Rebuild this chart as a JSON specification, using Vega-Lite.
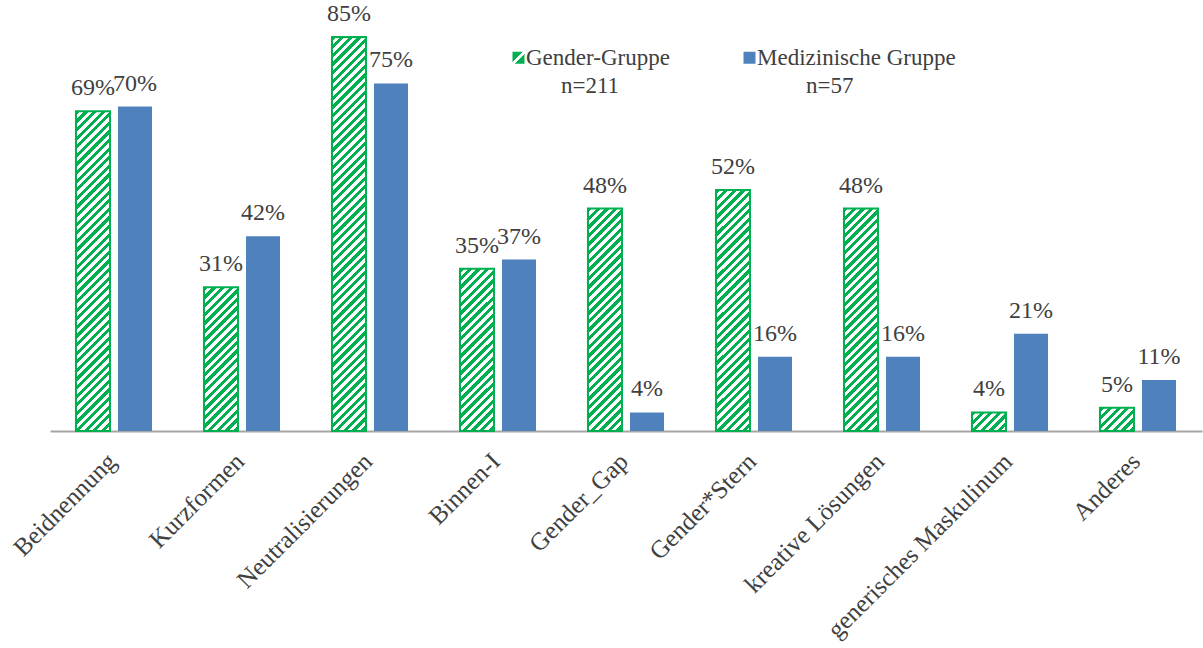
{
  "$schema": "https://vega.github.io/schema/vega-lite/v6.json",
  "width": 1152,
  "height": 431,
  "autosize": {"type": "none"},
  "padding": {"left": 50, "top": 0, "right": 1, "bottom": 217},
  "background": "white",
  "config": {"view": {"stroke": null}, "font": "Times New Roman"},
  "params": [
    {"name": "stripes", "value": [
      {"offset":0,"color":"#00B050"},
      {"offset":0.01,"color":"#00B050"},{"offset":0.01,"color":"#ffffff"},
      {"offset":0.02,"color":"#ffffff"},{"offset":0.02,"color":"#00B050"},
      {"offset":0.03,"color":"#00B050"},{"offset":0.03,"color":"#ffffff"},
      {"offset":0.04,"color":"#ffffff"},{"offset":0.04,"color":"#00B050"},
      {"offset":0.05,"color":"#00B050"},{"offset":0.05,"color":"#ffffff"},
      {"offset":0.06,"color":"#ffffff"},{"offset":0.06,"color":"#00B050"},
      {"offset":0.07,"color":"#00B050"},{"offset":0.07,"color":"#ffffff"},
      {"offset":0.08,"color":"#ffffff"},{"offset":0.08,"color":"#00B050"},
      {"offset":0.09,"color":"#00B050"},{"offset":0.09,"color":"#ffffff"},
      {"offset":0.10,"color":"#ffffff"},{"offset":0.10,"color":"#00B050"},
      {"offset":0.11,"color":"#00B050"},{"offset":0.11,"color":"#ffffff"},
      {"offset":0.12,"color":"#ffffff"},{"offset":0.12,"color":"#00B050"},
      {"offset":0.13,"color":"#00B050"},{"offset":0.13,"color":"#ffffff"},
      {"offset":0.14,"color":"#ffffff"},{"offset":0.14,"color":"#00B050"},
      {"offset":0.15,"color":"#00B050"},{"offset":0.15,"color":"#ffffff"},
      {"offset":0.16,"color":"#ffffff"},{"offset":0.16,"color":"#00B050"},
      {"offset":0.17,"color":"#00B050"},{"offset":0.17,"color":"#ffffff"},
      {"offset":0.18,"color":"#ffffff"},{"offset":0.18,"color":"#00B050"},
      {"offset":0.19,"color":"#00B050"},{"offset":0.19,"color":"#ffffff"},
      {"offset":0.20,"color":"#ffffff"},{"offset":0.20,"color":"#00B050"},
      {"offset":0.21,"color":"#00B050"},{"offset":0.21,"color":"#ffffff"},
      {"offset":0.22,"color":"#ffffff"},{"offset":0.22,"color":"#00B050"},
      {"offset":0.23,"color":"#00B050"},{"offset":0.23,"color":"#ffffff"},
      {"offset":0.24,"color":"#ffffff"},{"offset":0.24,"color":"#00B050"},
      {"offset":0.25,"color":"#00B050"},{"offset":0.25,"color":"#ffffff"},
      {"offset":0.26,"color":"#ffffff"},{"offset":0.26,"color":"#00B050"},
      {"offset":0.27,"color":"#00B050"},{"offset":0.27,"color":"#ffffff"},
      {"offset":0.28,"color":"#ffffff"},{"offset":0.28,"color":"#00B050"},
      {"offset":0.29,"color":"#00B050"},{"offset":0.29,"color":"#ffffff"},
      {"offset":0.30,"color":"#ffffff"},{"offset":0.30,"color":"#00B050"},
      {"offset":0.31,"color":"#00B050"},{"offset":0.31,"color":"#ffffff"},
      {"offset":0.32,"color":"#ffffff"},{"offset":0.32,"color":"#00B050"},
      {"offset":0.33,"color":"#00B050"},{"offset":0.33,"color":"#ffffff"},
      {"offset":0.34,"color":"#ffffff"},{"offset":0.34,"color":"#00B050"},
      {"offset":0.35,"color":"#00B050"},{"offset":0.35,"color":"#ffffff"},
      {"offset":0.36,"color":"#ffffff"},{"offset":0.36,"color":"#00B050"},
      {"offset":0.37,"color":"#00B050"},{"offset":0.37,"color":"#ffffff"},
      {"offset":0.38,"color":"#ffffff"},{"offset":0.38,"color":"#00B050"},
      {"offset":0.39,"color":"#00B050"},{"offset":0.39,"color":"#ffffff"},
      {"offset":0.40,"color":"#ffffff"},{"offset":0.40,"color":"#00B050"},
      {"offset":0.41,"color":"#00B050"},{"offset":0.41,"color":"#ffffff"},
      {"offset":0.42,"color":"#ffffff"},{"offset":0.42,"color":"#00B050"},
      {"offset":0.43,"color":"#00B050"},{"offset":0.43,"color":"#ffffff"},
      {"offset":0.44,"color":"#ffffff"},{"offset":0.44,"color":"#00B050"},
      {"offset":0.45,"color":"#00B050"},{"offset":0.45,"color":"#ffffff"},
      {"offset":0.46,"color":"#ffffff"},{"offset":0.46,"color":"#00B050"},
      {"offset":0.47,"color":"#00B050"},{"offset":0.47,"color":"#ffffff"},
      {"offset":0.48,"color":"#ffffff"},{"offset":0.48,"color":"#00B050"},
      {"offset":0.49,"color":"#00B050"},{"offset":0.49,"color":"#ffffff"},
      {"offset":0.50,"color":"#ffffff"},{"offset":0.50,"color":"#00B050"},
      {"offset":0.51,"color":"#00B050"},{"offset":0.51,"color":"#ffffff"},
      {"offset":0.52,"color":"#ffffff"},{"offset":0.52,"color":"#00B050"},
      {"offset":0.53,"color":"#00B050"},{"offset":0.53,"color":"#ffffff"},
      {"offset":0.54,"color":"#ffffff"},{"offset":0.54,"color":"#00B050"},
      {"offset":0.55,"color":"#00B050"},{"offset":0.55,"color":"#ffffff"},
      {"offset":0.56,"color":"#ffffff"},{"offset":0.56,"color":"#00B050"},
      {"offset":0.57,"color":"#00B050"},{"offset":0.57,"color":"#ffffff"},
      {"offset":0.58,"color":"#ffffff"},{"offset":0.58,"color":"#00B050"},
      {"offset":0.59,"color":"#00B050"},{"offset":0.59,"color":"#ffffff"},
      {"offset":0.60,"color":"#ffffff"},{"offset":0.60,"color":"#00B050"},
      {"offset":0.61,"color":"#00B050"},{"offset":0.61,"color":"#ffffff"},
      {"offset":0.62,"color":"#ffffff"},{"offset":0.62,"color":"#00B050"},
      {"offset":0.63,"color":"#00B050"},{"offset":0.63,"color":"#ffffff"},
      {"offset":0.64,"color":"#ffffff"},{"offset":0.64,"color":"#00B050"},
      {"offset":0.65,"color":"#00B050"},{"offset":0.65,"color":"#ffffff"},
      {"offset":0.66,"color":"#ffffff"},{"offset":0.66,"color":"#00B050"},
      {"offset":0.67,"color":"#00B050"},{"offset":0.67,"color":"#ffffff"},
      {"offset":0.68,"color":"#ffffff"},{"offset":0.68,"color":"#00B050"},
      {"offset":0.69,"color":"#00B050"},{"offset":0.69,"color":"#ffffff"},
      {"offset":0.70,"color":"#ffffff"},{"offset":0.70,"color":"#00B050"},
      {"offset":0.71,"color":"#00B050"},{"offset":0.71,"color":"#ffffff"},
      {"offset":0.72,"color":"#ffffff"},{"offset":0.72,"color":"#00B050"},
      {"offset":0.73,"color":"#00B050"},{"offset":0.73,"color":"#ffffff"},
      {"offset":0.74,"color":"#ffffff"},{"offset":0.74,"color":"#00B050"},
      {"offset":0.75,"color":"#00B050"},{"offset":0.75,"color":"#ffffff"},
      {"offset":0.76,"color":"#ffffff"},{"offset":0.76,"color":"#00B050"},
      {"offset":0.77,"color":"#00B050"},{"offset":0.77,"color":"#ffffff"},
      {"offset":0.78,"color":"#ffffff"},{"offset":0.78,"color":"#00B050"},
      {"offset":0.79,"color":"#00B050"},{"offset":0.79,"color":"#ffffff"},
      {"offset":0.80,"color":"#ffffff"},{"offset":0.80,"color":"#00B050"},
      {"offset":0.81,"color":"#00B050"},{"offset":0.81,"color":"#ffffff"},
      {"offset":0.82,"color":"#ffffff"},{"offset":0.82,"color":"#00B050"},
      {"offset":0.83,"color":"#00B050"},{"offset":0.83,"color":"#ffffff"},
      {"offset":0.84,"color":"#ffffff"},{"offset":0.84,"color":"#00B050"},
      {"offset":0.85,"color":"#00B050"},{"offset":0.85,"color":"#ffffff"},
      {"offset":0.86,"color":"#ffffff"},{"offset":0.86,"color":"#00B050"},
      {"offset":0.87,"color":"#00B050"},{"offset":0.87,"color":"#ffffff"},
      {"offset":0.88,"color":"#ffffff"},{"offset":0.88,"color":"#00B050"},
      {"offset":0.89,"color":"#00B050"},{"offset":0.89,"color":"#ffffff"},
      {"offset":0.90,"color":"#ffffff"},{"offset":0.90,"color":"#00B050"},
      {"offset":0.91,"color":"#00B050"},{"offset":0.91,"color":"#ffffff"},
      {"offset":0.92,"color":"#ffffff"},{"offset":0.92,"color":"#00B050"},
      {"offset":0.93,"color":"#00B050"},{"offset":0.93,"color":"#ffffff"},
      {"offset":0.94,"color":"#ffffff"},{"offset":0.94,"color":"#00B050"},
      {"offset":0.95,"color":"#00B050"},{"offset":0.95,"color":"#ffffff"},
      {"offset":0.96,"color":"#ffffff"},{"offset":0.96,"color":"#00B050"},
      {"offset":0.97,"color":"#00B050"},{"offset":0.97,"color":"#ffffff"},
      {"offset":0.98,"color":"#ffffff"},{"offset":0.98,"color":"#00B050"},
      {"offset":0.99,"color":"#00B050"},{"offset":0.99,"color":"#ffffff"},
      {"offset":1,"color":"#ffffff"}
    ]}
  ],
  "data": {"values": [
    {"cat": "Beidnennung", "group": "Gender-Gruppe", "n": "n=211", "pct": 0.69},
    {"cat": "Beidnennung", "group": "Medizinische Gruppe", "n": "n=57", "pct": 0.70},
    {"cat": "Kurzformen", "group": "Gender-Gruppe", "n": "n=211", "pct": 0.31},
    {"cat": "Kurzformen", "group": "Medizinische Gruppe", "n": "n=57", "pct": 0.42},
    {"cat": "Neutralisierungen", "group": "Gender-Gruppe", "n": "n=211", "pct": 0.85},
    {"cat": "Neutralisierungen", "group": "Medizinische Gruppe", "n": "n=57", "pct": 0.75},
    {"cat": "Binnen-I", "group": "Gender-Gruppe", "n": "n=211", "pct": 0.35},
    {"cat": "Binnen-I", "group": "Medizinische Gruppe", "n": "n=57", "pct": 0.37},
    {"cat": "Gender_Gap", "group": "Gender-Gruppe", "n": "n=211", "pct": 0.48},
    {"cat": "Gender_Gap", "group": "Medizinische Gruppe", "n": "n=57", "pct": 0.04},
    {"cat": "Gender*Stern", "group": "Gender-Gruppe", "n": "n=211", "pct": 0.52},
    {"cat": "Gender*Stern", "group": "Medizinische Gruppe", "n": "n=57", "pct": 0.16},
    {"cat": "kreative Lösungen", "group": "Gender-Gruppe", "n": "n=211", "pct": 0.48},
    {"cat": "kreative Lösungen", "group": "Medizinische Gruppe", "n": "n=57", "pct": 0.16},
    {"cat": "generisches Maskulinum", "group": "Gender-Gruppe", "n": "n=211", "pct": 0.04},
    {"cat": "generisches Maskulinum", "group": "Medizinische Gruppe", "n": "n=57", "pct": 0.21},
    {"cat": "Anderes", "group": "Gender-Gruppe", "n": "n=211", "pct": 0.05},
    {"cat": "Anderes", "group": "Medizinische Gruppe", "n": "n=57", "pct": 0.11}
  ]},
  "encoding": {
    "x": {
      "field": "cat", "type": "nominal",
      "sort": ["Beidnennung", "Kurzformen", "Neutralisierungen", "Binnen-I", "Gender_Gap", "Gender*Stern", "kreative Lösungen", "generisches Maskulinum", "Anderes"],
      "scale": {"paddingInner": 0.406, "paddingOuter": 0.203},
      "axis": {
        "title": null, "labelAngle": -45, "labelAlign": "right", "labelBaseline": "middle",
        "labelFont": "Liberation Serif", "labelFontSize": 25, "labelColor": "#404040",
        "ticks": false, "domainColor": "#a6a6a6", "domainWidth": 2,
        "labelPadding": 26, "labelOffset": -2, "labelLimit": 400, "grid": false
      }
    },
    "xOffset": {"field": "group", "type": "nominal", "scale": {"paddingInner": 0.19, "paddingOuter": 0}},
    "y": {"field": "pct", "type": "quantitative", "scale": {"domain": [0, 0.93]}, "axis": null}
  },
  "layer": [
    {
      "mark": {
        "type": "bar",
        "fill": {"expr": "datum.group == 'Gender-Gruppe' ? {gradient: 'linear', x1: 0, y1: 0, x2: 430 * 34 / (1156 + pow(scale('y', 0) - scale('y', datum.pct), 2)), y2: 430 * (scale('y', 0) - scale('y', datum.pct)) / (1156 + pow(scale('y', 0) - scale('y', datum.pct), 2)), stops: stripes} : '#4F81BD'"},
        "stroke": {"expr": "datum.group == 'Gender-Gruppe' ? '#00B050' : null"},
        "strokeWidth": 2
      }
    },
    {
      "transform": [{"filter": "false"}],
      "mark": {"type": "bar"},
      "encoding": {
        "fill": {
          "field": "group", "type": "nominal",
          "scale": {
            "domain": ["Gender-Gruppe", "Medizinische Gruppe"],
            "range": [{"expr": "{gradient: 'linear', x1: 0, y1: 0, x2: 1, y2: 1, stops: [{offset: 0, color: '#00B050'}, {offset: 0.41, color: '#00B050'}, {offset: 0.41, color: '#ffffff'}, {offset: 0.59, color: '#ffffff'}, {offset: 0.59, color: '#00B050'}, {offset: 1, color: '#00B050'}]}"}, "#4F81BD"]
          },
          "legend": {
            "title": null, "orient": "none", "legendX": 457, "legendY": 46,
            "direction": "horizontal", "symbolType": "square", "symbolSize": 144,
            "symbolStrokeWidth": 0, "symbolOpacity": 1,
            "labelFont": "Times New Roman", "labelFontSize": 23, "labelColor": "#404040",
            "labelOffset": -4, "columnPadding": 68, "padding": 0, "labelLimit": 400
          }
        },
        "stroke": {
          "field": "n", "type": "nominal",
          "scale": {"domain": ["n=211", "n=57"], "range": ["#ffffff", "#ffffff"]},
          "legend": {
            "title": null, "orient": "none", "legendX": 488, "legendY": 74,
            "direction": "horizontal", "symbolOpacity": 0, "symbolSize": 1, "symbolStrokeWidth": 0,
            "labelFont": "Times New Roman", "labelFontSize": 23, "labelColor": "#404040",
            "labelOffset": 0, "columnPadding": 163, "padding": 0
          }
        }
      }
    },
    {
      "transform": [{"filter": "datum.group == 'Gender-Gruppe'"}],
      "mark": {"type": "text", "font": "serif", "fontSize": 24, "fill": "#404040", "baseline": "alphabetic", "dy": -16},
      "encoding": {"text": {"field": "pct", "type": "quantitative", "format": ".0%"}}
    },
    {
      "transform": [{"filter": "datum.group == 'Medizinische Gruppe'"}],
      "mark": {"type": "text", "font": {"expr": "'Liberation Serif'"}, "fontSize": 24, "fill": "#404040", "baseline": "alphabetic", "dy": -16},
      "encoding": {"text": {"field": "pct", "type": "quantitative", "format": ".0%"}}
    }
  ]
}
